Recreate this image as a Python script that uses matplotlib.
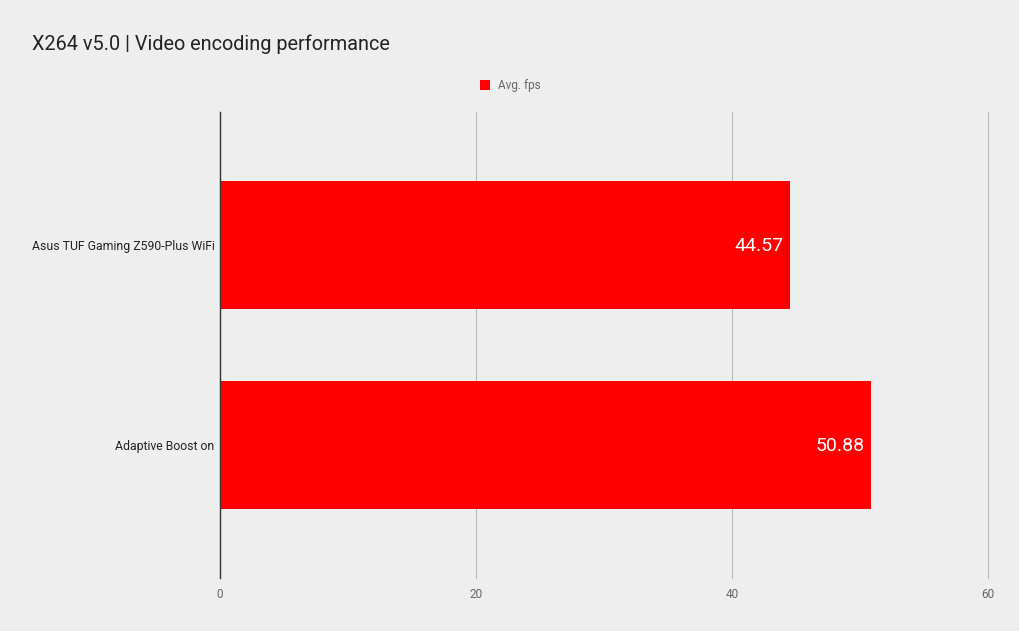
import matplotlib.pyplot as plt

boards = ["Asus TUF Gaming Z590-Plus WiFi", "Adaptive Boost on"]
avg_fps = [44.57, 50.88]
x_ticks = [0, 20, 40, 60]

plt.rcParams['font.family'] = ['Roboto', 'DejaVu Sans']

fig = plt.figure(figsize=(10.2, 6.31), dpi=100)
fig.patch.set_facecolor('#eeeeee')
ax = fig.add_axes([220 / 1020, 1 - 578 / 631, 768 / 1020, 466 / 631])
ax.set_facecolor('#eeeeee')

pos = list(range(len(boards)))
bars = ax.barh(pos, avg_fps, height=0.643, color='#ff0000', zorder=2, label='Avg. fps')
for b, v in zip(bars, avg_fps):
    ax.text(b.get_width() - 0.55, b.get_y() + b.get_height() / 2 + 0.005, f"{v:.2f}",
            ha='right', va='center', color='white', fontsize=14, zorder=3)

ax.set_xlim(0, 60)
ax.set_ylim(1.67, -0.67)
ax.set_xticks(x_ticks)
ax.set_xticklabels([str(t) for t in x_ticks], color='#666666', fontsize=8.5)
ax.set_yticks(pos)
ax.set_yticklabels(boards, fontsize=8.8, color='#222222')
ax.tick_params(axis='y', length=0, pad=4)
ax.tick_params(axis='x', length=0, pad=7)
ax.grid(axis='x', color='#bbbbbb', linewidth=0.8, zorder=0)
for gl in ax.get_xgridlines():
    gl.set_clip_on(False)
for s in ['top', 'right', 'bottom']:
    ax.spines[s].set_visible(False)
ax.spines['left'].set_color('#333333')
ax.spines['left'].set_linewidth(1)
ax.spines['left'].set_zorder(4)

fig.text(32 / 1020, 1 - 44 / 631, "X264 v5.0 | Video encoding performance",
         fontsize=14.3, color='#222222', va='center', ha='left')
fig.legend(loc='center', bbox_to_anchor=(510 / 1020, 1 - 85.5 / 631), frameon=False,
           fontsize=8.5, labelcolor='#666666', handlelength=0.9, handleheight=0.9,
           handletextpad=0.6)

fig.savefig("out.png", dpi=100, facecolor=fig.get_facecolor())
